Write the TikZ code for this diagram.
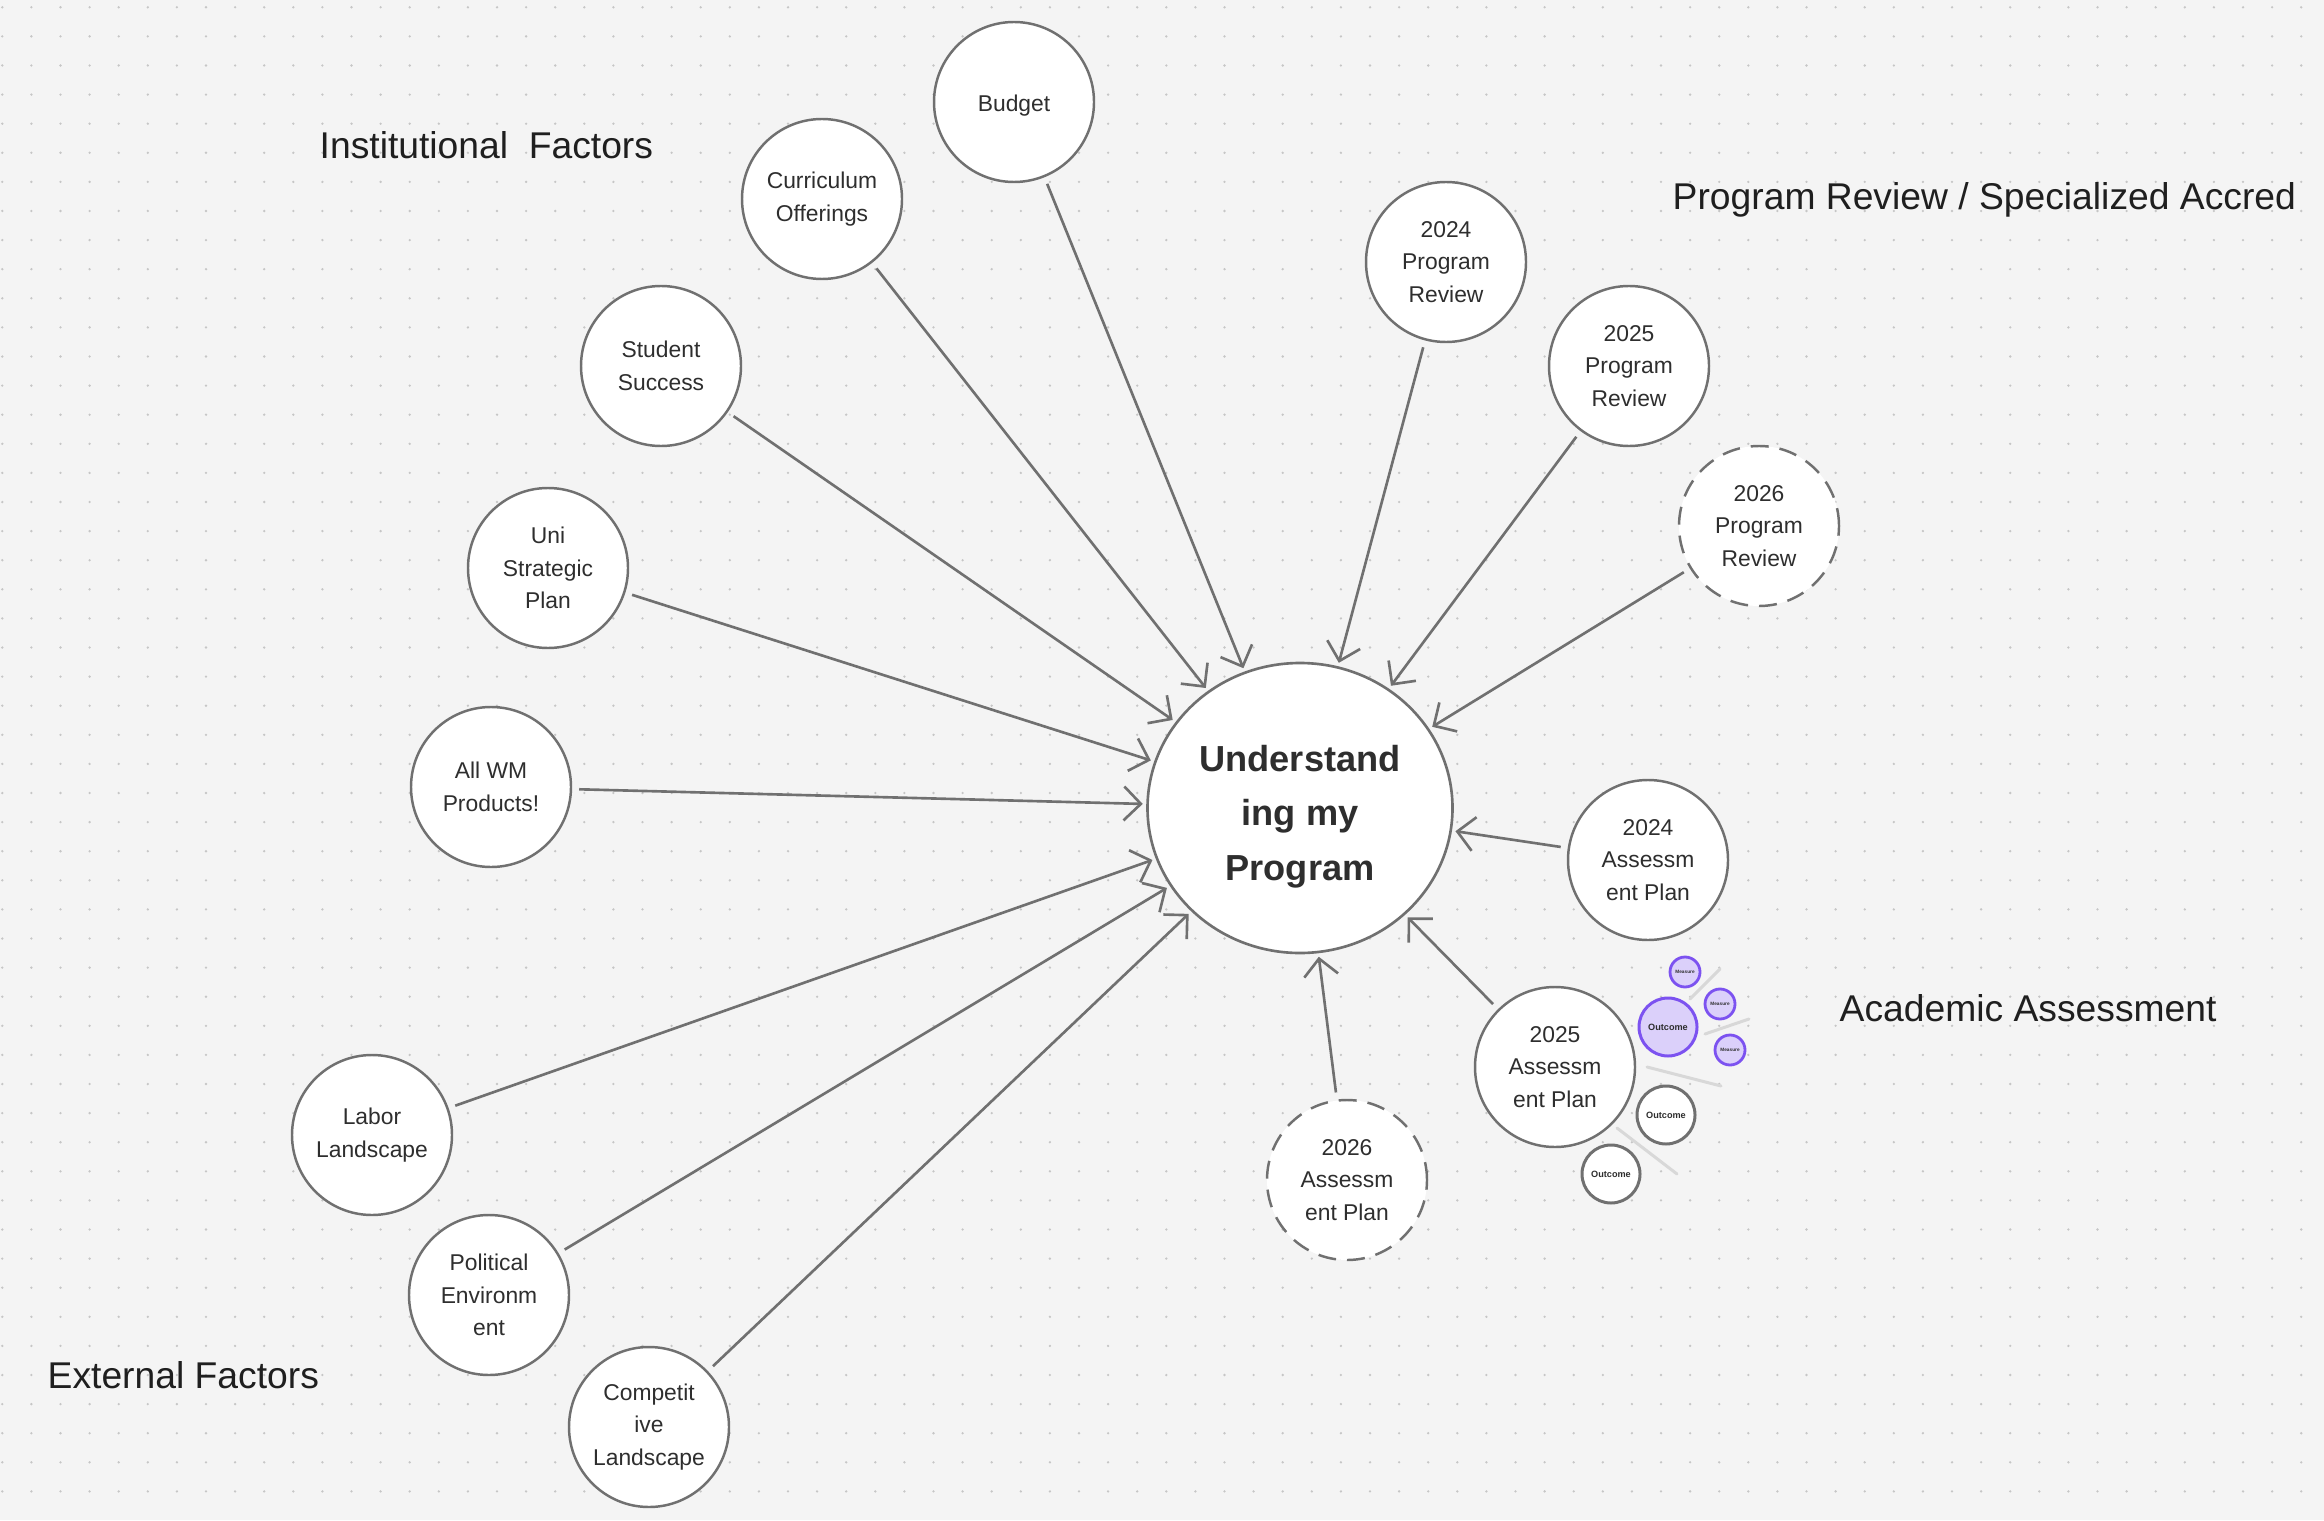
\documentclass[tikz,border=0pt]{standalone}
\usepackage{fontspec}
\setmainfont{Liberation Sans}
\usetikzlibrary{shapes.geometric, arrows.meta, positioning}
\definecolor{bggray}{HTML}{F4F4F4}
\definecolor{dotgray}{HTML}{C6C6C6}
\definecolor{linegray}{HTML}{707070}
\definecolor{textgray}{HTML}{2E2E2E}
\definecolor{tickgray}{HTML}{D8D8D8}
\definecolor{violet}{HTML}{7C52F0}
\definecolor{lavender}{HTML}{DBD0FA}
\tikzstyle{factor} = [circle, minimum size=1.6cm, inner sep=0pt, align=center,
	draw=linegray, line width=0.7pt, fill=white, text=textgray,
	font=\fontsize{6.5}{9.3}\selectfont]
\tikzstyle{planned} = [factor, dash pattern=on 0.18cm off 0.11cm]
\tikzstyle{program} = [ellipse, minimum width=3.05cm, minimum height=2.9cm, inner sep=0pt,
	align=center, draw=linegray, line width=0.75pt, fill=white, text=textgray,
	font=\fontsize{10.3}{15.6}\selectfont\bfseries]
\tikzstyle{outcome} = [circle, minimum size=0.58cm, inner sep=0pt, line width=0.85pt,
	font=\fontsize{2.6}{3}\selectfont\bfseries, text=textgray]
\tikzstyle{measure} = [circle, minimum size=0.3cm, inner sep=0pt, line width=0.8pt,
	draw=violet, fill=lavender, font=\fontsize{1.35}{2}\selectfont\bfseries, text=textgray]
\tikzstyle{group} = [anchor=west, inner sep=0pt, text=black!88,
	font=\fontsize{10.6}{12}\selectfont]
\tikzstyle{arrow} = [-{Straight Barb[length=0.17cm, width=0.34cm]}, line width=0.75pt,
	draw=linegray, shorten >=1pt, shorten <=2pt]
\tikzstyle{tick} = [draw=tickgray, line width=0.03cm, line cap=round]

\begin{document}
\begin{tikzpicture}
	% set up canvas
	\useasboundingbox (0,0) rectangle (23.24,15.20);
	\fill[bggray] (0,0) rectangle (23.24,15.20);
	\foreach \r in {0,...,51}
		\draw[dotgray, line width=0.026cm, line cap=round, dash pattern=on 0pt off 0.291cm]
			(0.023,{15.127-0.291*\r}) -- (23.24,{15.127-0.291*\r});

	% set up group labels
	\node (inst-label) [group] at (3.19,13.75) {Institutional\ \ Factors};
	\node (review-label) [group] at (16.72,13.20) {Program Review / Specialized Accred};
	\node (assess-label) [group] at (18.39,5.12) {Academic Assessment};
	\node (ext-label) [group] at (0.47,1.45) {External Factors};

	% set up nodes
	\node (program) [program] at (13.00,7.12) {\rule{0pt}{1.2em}Understand\\ing my\\Program};

	\node (budget) [factor] at (10.14,14.18) {\rule{0pt}{1.05em}Budget};
	\node (curriculum) [factor] at (8.22,13.21) {Curriculum\\Offerings};
	\node (success) [factor] at (6.61,11.54) {Student\\Success};
	\node (strategic) [factor] at (5.48,9.52) {Uni\\Strategic\\Plan};
	\node (products) [factor] at (4.91,7.33) {All WM\\Products!};
	\node (labor) [factor] at (3.72,3.85) {Labor\\Landscape};
	\node (political) [factor] at (4.89,2.25) {Political\\Environm\\ent};
	\node (competitive) [factor] at (6.49,0.93) {Competit\\ive\\Landscape};

	\node (review-2024) [factor] at (14.46,12.58) {2024\\Program\\Review};
	\node (review-2025) [factor] at (16.29,11.54) {2025\\Program\\Review};
	\node (review-2026) [planned] at (17.59,9.94) {2026\\Program\\Review};

	\node (assess-2024) [factor] at (16.48,6.60) {2024\\Assessm\\ent Plan};
	\node (assess-2025) [factor] at (15.55,4.53) {2025\\Assessm\\ent Plan};
	\node (assess-2026) [planned] at (13.47,3.40) {2026\\Assessm\\ent Plan};

	% outcomes and measures of the 2025 plan
	\draw[tick] (16.90,5.21) -- (17.20,5.51);
	\draw[tick] (17.05,4.86) -- (17.49,5.01);
	\draw[tick] (16.47,4.53) -- (17.21,4.34);
	\draw[tick] (16.17,3.92) -- (16.77,3.46);
	\node (outcome-a) [outcome, draw=violet, fill=lavender] at (16.68,4.93) {Outcome};
	\node (measure-a) [measure] at (16.85,5.48) {Measure};
	\node (measure-b) [measure] at (17.20,5.16) {Measure};
	\node (measure-c) [measure] at (17.30,4.70) {Measure};
	\node (outcome-b) [outcome, draw=linegray, fill=white] at (16.66,4.05) {Outcome};
	\node (outcome-c) [outcome, draw=linegray, fill=white] at (16.11,3.46) {Outcome};

	% set up arrows
	\foreach \src in {budget, curriculum, success, strategic, products, labor, political,
		competitive, review-2024, review-2025, review-2026, assess-2024, assess-2025, assess-2026}
		\draw[arrow] (\src) -- (program);

\end{tikzpicture}
\end{document}
